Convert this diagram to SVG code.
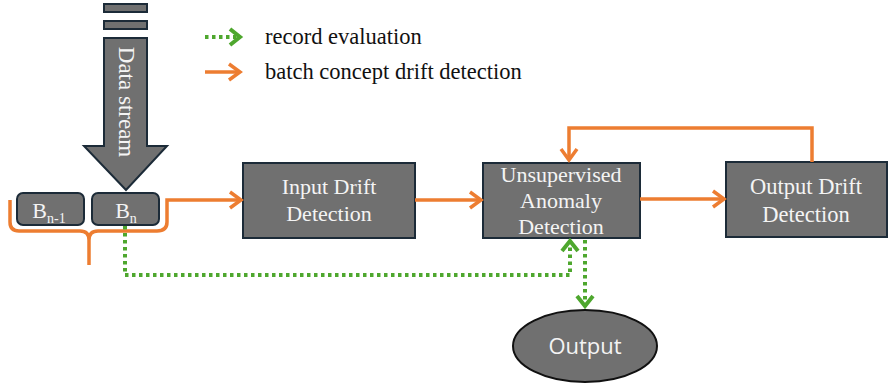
<svg xmlns="http://www.w3.org/2000/svg" width="888" height="388" viewBox="0 0 888 388">
<style>
.box{fill:#707070;stroke:#1c2b38;stroke-width:2}
.lbl{font-family:"Liberation Serif","Times New Roman",serif;font-size:22px;fill:#f4f4f4;text-anchor:middle}
.leg{font-family:"Liberation Serif","Times New Roman",serif;font-size:22.5px;fill:#111}
.or{fill:none;stroke:#ed7d31;stroke-width:3.5}
.gr{fill:none;stroke:#4ea72e;stroke-width:4;stroke-dasharray:3.5 3.5}
</style>
<defs>
<marker id="ao" markerUnits="userSpaceOnUse" markerWidth="20" markerHeight="24" viewBox="-14 -12 20 24" refX="0" refY="0" orient="auto">
<path d="M-11,-8 L0,0 L-11,8" fill="none" stroke="#ed7d31" stroke-width="3.5"/>
</marker>
<marker id="ag" markerUnits="userSpaceOnUse" markerWidth="20" markerHeight="24" viewBox="-14 -12 20 24" refX="0" refY="0" orient="auto">
<path d="M-10,-8 L0,0 L-10,8" fill="none" stroke="#4ea72e" stroke-width="4"/>
</marker>
</defs>

<g id="legend">
<line class="gr" x1="205" y1="37" x2="240" y2="37" marker-end="url(#ag)"/>
<text class="leg" x="265" y="44">record evaluation</text>
<line class="or" x1="205" y1="72" x2="240" y2="72" marker-end="url(#ao)"/>
<text class="leg" x="265" y="79">batch concept drift detection</text>
</g>

<g id="data-stream">
<rect x="104" y="4" width="43" height="8" class="box"/>
<rect x="104" y="21" width="43" height="8" class="box"/>
<polygon points="104,38 147,38 147,146 167,146 126,190 84,146 104,146" class="box"/>
<text class="lbl" font-size="23" transform="translate(126,102) rotate(90)" dominant-baseline="central" style="font-size:23px">Data stream</text>
</g>

<g id="batch-prev">
<rect x="17" y="193" width="67" height="32" rx="6" class="box"/>
<text class="lbl" x="49" y="218">B<tspan font-size="14" dy="5">n-1</tspan></text>
</g>
<g id="batch-curr">
<rect x="92" y="193" width="67" height="32" rx="6" class="box"/>
<text class="lbl" x="126" y="218">B<tspan font-size="14" dy="5">n</tspan></text>
</g>

<g id="input-drift">
<rect x="243" y="163" width="172" height="75" class="box"/>
<text class="lbl" x="329" y="194">Input Drift</text>
<text class="lbl" x="329" y="221">Detection</text>
</g>

<g id="anomaly">
<rect x="483" y="163" width="157" height="75" class="box"/>
<text class="lbl" x="561" y="182">Unsupervised</text>
<text class="lbl" x="561" y="208">Anomaly</text>
<text class="lbl" x="561" y="234">Detection</text>
</g>

<g id="output-drift">
<rect x="726" y="162" width="161" height="75" class="box"/>
<text class="lbl" x="806" y="194" style="font-size:22.5px">Output Drift</text>
<text class="lbl" x="806" y="222" style="font-size:22.5px">Detection</text>
</g>

<g id="output">
<ellipse cx="585" cy="346" rx="72" ry="36" fill="#707070" stroke="#111" stroke-width="2"/>
<text x="585" y="354" text-anchor="middle" font-family="'Open Sans','Liberation Sans',sans-serif" font-size="22" fill="#f4f4f4">Output</text>
</g>

<g id="connectors">
<path class="or" d="M10,200 L10,222 Q10,231 19,231 L80,231 Q89,231 89,240 L89,265 M89,240 Q89,231 98,231 L157,231 Q167,231 167,222 L167,200 L241,200" marker-end="url(#ao)"/>
<line class="or" x1="415" y1="200" x2="481" y2="200" marker-end="url(#ao)"/>
<line class="or" x1="640" y1="199" x2="724" y2="199" marker-end="url(#ao)"/>
<path class="or" d="M812,162 L812,128 L569,128 L569,160" marker-end="url(#ao)"/>
<path class="gr" d="M125,226 L125,275 L570,275 L570,241" marker-end="url(#ag)"/>
<path class="gr" d="M585,240 L585,306" marker-end="url(#ag)"/>
</g>
</svg>
